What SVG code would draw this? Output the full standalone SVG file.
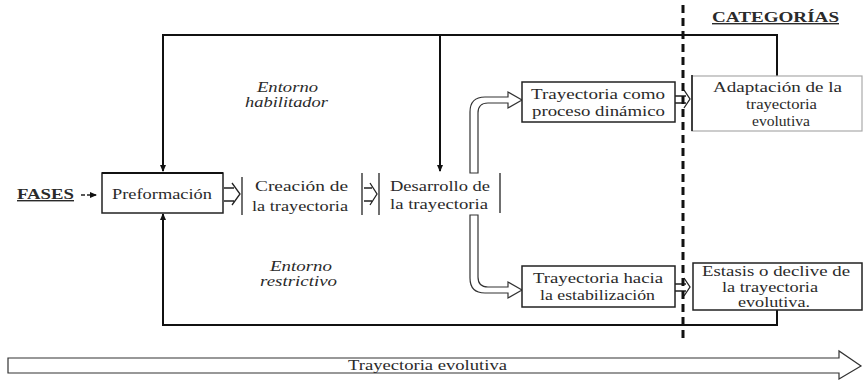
<svg xmlns="http://www.w3.org/2000/svg" width="868" height="380" viewBox="0 0 868 380">
<style>
text{font-size:14px;fill:#2a2a2a;}
.i{font-style:italic;}
.b{font-weight:bold;text-decoration:underline;}
.ln{fill:none;stroke:#111;stroke-width:2;}
.thin{fill:none;stroke:#222;stroke-width:1.3;}
.box{fill:#fff;stroke:#222;stroke-width:1.5;}
.gbox{fill:#fff;stroke:#aaa;stroke-width:1.2;}
.hol{fill:#fff;stroke:#333;stroke-width:1.2;}
</style>
<defs>
<marker id="ah" markerWidth="8" markerHeight="8" refX="6" refY="4" orient="auto" markerUnits="userSpaceOnUse">
<path d="M0,1 L7,4 L0,7 Z" fill="#111"/>
</marker>
</defs>

<g id="connectors">
<path class="ln" d="M777,76 V35 H163 V171" marker-end="url(#ah)"/>
<path class="ln" d="M440,35 V171" marker-end="url(#ah)"/>
<path class="ln" d="M777,310 V325 H163 V214" marker-end="url(#ah)"/>
<path d="M81,195 H96" fill="none" stroke="#222" stroke-width="1.5" stroke-dasharray="4 2" marker-end="url(#ah)"/>
<path class="hol" d="M470,173 V112 Q470,97 485,97 H508 V92 L522,100 L508,108 V103 H488 Q478,103 478,113 V173 Z"/>
<path class="hol" d="M470,215 V278 Q470,293 485,293 H508 V298 L522,290 L508,282 V287 H488 Q478,287 478,277 V215 Z"/>
<path class="thin" d="M224,188 H234 M224,201 H234 M232,183 L240,194 L232,205"/>
<path class="thin" d="M364,188 H372 M364,201 H372 M370,183 L377,194 L370,205"/>
<path class="thin" d="M675,96 H686 M675,103 H686 M684,90 L690,99 L684,108"/>
<path class="thin" d="M675,284 H686 M675,291 H686 M684,278 L690,287 L684,296"/>
<path d="M683,5 V342" fill="none" stroke="#111" stroke-width="3" stroke-dasharray="8 5"/>
<path class="hol" d="M8,358 H839 V351 L861,366 L839,379 V373 H8 Z" stroke="#111" stroke-width="1.5"/>
</g>

<g font-family="Liberation Serif, Times New Roman, serif">
<g id="fases"><text class="b" x="17" y="199" textLength="57" lengthAdjust="spacingAndGlyphs">FASES</text></g>
<g id="categorias"><text class="b" x="712" y="22" textLength="127" lengthAdjust="spacingAndGlyphs">CATEGORÍAS</text></g>

<g id="preformacion">
<rect class="box" x="102" y="173" width="121" height="40" stroke="#777"/>
<path d="M102,173 H223" stroke="#111" stroke-width="2"/>
<text x="112" y="199" textLength="100" lengthAdjust="spacingAndGlyphs">Preformación</text>
</g>

<g id="creacion">
<path class="thin" d="M242,177 V215"/>
<path class="thin" d="M362,173 V215"/>
<text x="255" y="191" textLength="93" lengthAdjust="spacingAndGlyphs">Creación de</text>
<text x="252" y="211" textLength="96" lengthAdjust="spacingAndGlyphs">la trayectoria</text>
</g>

<g id="desarrollo">
<path class="thin" d="M379,173 V215"/>
<path class="thin" d="M500,173 V213"/>
<text x="390" y="191" textLength="100" lengthAdjust="spacingAndGlyphs">Desarrollo de</text>
<text x="390" y="209" textLength="98" lengthAdjust="spacingAndGlyphs">la trayectoria</text>
</g>

<g id="dinamico">
<rect class="box" x="522" y="82" width="153" height="40"/>
<text x="531" y="99" textLength="134" lengthAdjust="spacingAndGlyphs">Trayectoria como</text>
<text x="532" y="116" textLength="133" lengthAdjust="spacingAndGlyphs">proceso dinámico</text>
</g>

<g id="estabilizacion">
<rect class="box" x="522" y="266" width="153" height="41"/>
<text x="533" y="283" textLength="130" lengthAdjust="spacingAndGlyphs">Trayectoria hacia</text>
<text x="540" y="300" textLength="115" lengthAdjust="spacingAndGlyphs">la estabilización</text>
</g>

<g id="adaptacion">
<rect class="gbox" x="692" y="76" width="170" height="55"/>
<path d="M692,75 V131" stroke="#111" stroke-width="1.5"/>
<text x="713" y="92" textLength="129" lengthAdjust="spacingAndGlyphs">Adaptación de la</text>
<text x="746" y="109" textLength="71" lengthAdjust="spacingAndGlyphs">trayectoria</text>
<text x="752" y="126" textLength="58" lengthAdjust="spacingAndGlyphs">evolutiva</text>
</g>

<g id="estasis">
<rect class="box" x="693" y="263" width="169" height="47"/>
<text x="702" y="276" textLength="148" lengthAdjust="spacingAndGlyphs">Estasis o declive de</text>
<text x="722" y="292" textLength="96" lengthAdjust="spacingAndGlyphs">la trayectoria</text>
<text x="738" y="307" textLength="72" lengthAdjust="spacingAndGlyphs">evolutiva.</text>
</g>

<g id="entornos">
<text class="i" x="257" y="92" textLength="61" lengthAdjust="spacingAndGlyphs">Entorno</text>
<text class="i" x="245" y="107" textLength="83" lengthAdjust="spacingAndGlyphs">habilitador</text>
<text class="i" x="270" y="271" textLength="62" lengthAdjust="spacingAndGlyphs">Entorno</text>
<text class="i" x="260" y="286" textLength="77" lengthAdjust="spacingAndGlyphs">restrictivo</text>
</g>

<g id="evolutiva"><text x="348" y="370" textLength="159" lengthAdjust="spacingAndGlyphs">Trayectoria evolutiva</text></g>
</g>
</svg>
